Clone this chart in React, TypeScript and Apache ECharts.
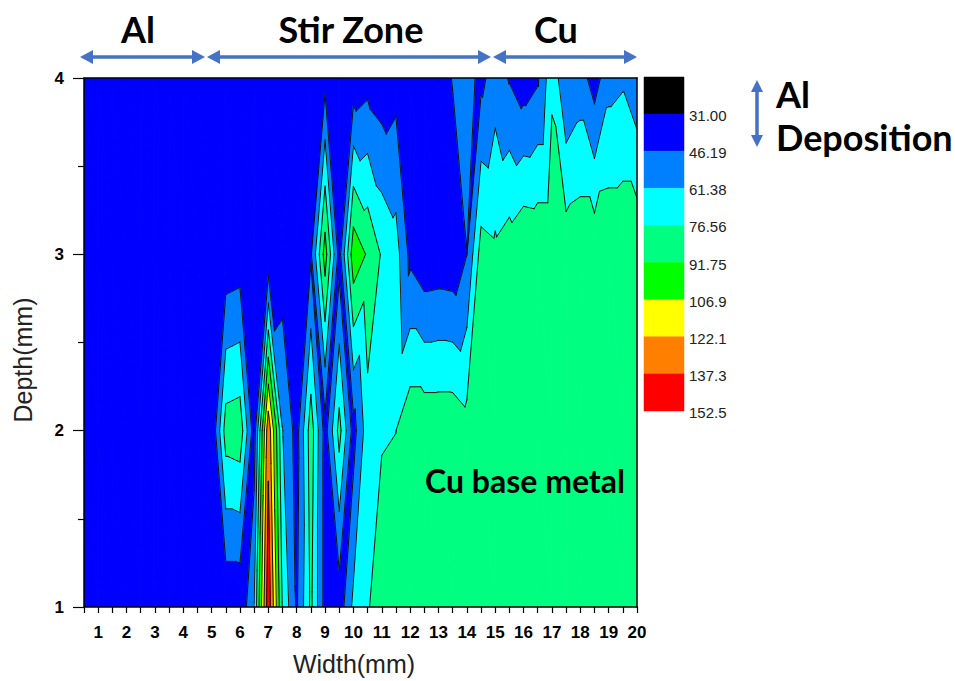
import React, { useEffect, useRef } from 'react';
import * as echarts from 'echarts';

// Width positions (mm) of the measurement columns
const widths = [0.5, 1, 1.5, 2, 2.5, 3, 3.5, 4, 4.5, 5, 5.5, 6, 6.5, 7, 7.5, 8, 8.5, 9, 9.5, 10, 10.5, 11, 11.5, 12, 12.5, 13, 13.5, 14, 14.5, 15, 15.5, 16, 16.5, 17, 17.5, 18, 18.5, 19, 19.5, 20];
// Depth rows (mm)
const depths = [1, 2, 3, 4];
// Hardness values per depth row, one value per width column
const valuesDepth1 = [40, 40, 40, 40, 40, 40, 40, 40, 40, 36, 33, 33, 62, 148, 75, 44, 80, 40, 37, 65, 76, 80, 84, 85, 86, 86, 86, 86, 86, 86, 86, 86, 86, 86, 86, 86, 86, 86, 86, 86];
const valuesDepth2 = [40, 40, 40, 40, 40, 40, 40, 40, 40, 32, 84, 86, 38, 133, 62, 40, 85, 40, 82, 40, 70, 76, 76.5, 88, 88, 88, 88, 83, 86, 86, 86, 86, 86, 86, 86, 86, 86, 86, 86, 86];
const valuesDepth3 = [40, 40, 40, 40, 40, 40, 40, 40, 40, 38, 35, 37, 36, 34, 37, 38, 44, 99, 40, 102, 90, 75, 68, 42, 35, 36, 35, 46, 83, 80, 85, 91, 90, 90, 86, 88, 88, 89, 89, 89];
const valuesDepth4 = [40, 40, 40, 40, 40, 40, 40, 40, 40, 40, 38, 38, 38, 38, 38, 38, 38, 41, 38, 36, 40, 36, 40, 38, 38, 38, 47, 52, 42, 54, 45, 38, 44, 73, 47, 53, 39, 56, 59, 50];
const rows = [valuesDepth1, valuesDepth2, valuesDepth3, valuesDepth4];

// Contour levels and colours
const contourLevels = [31.0, 46.19, 61.38, 76.56, 91.75, 106.9, 122.1, 137.3, 152.5];
const bandColors = ['#000000', '#0000FF', '#0080FF', '#00FFFF', '#00FF80', '#00FF00', '#FFFF00', '#FF8000', '#FF0000', '#800000'];
const colorbarColors = ['#000000', '#0000FF', '#0080FF', '#00FFFF', '#00FF80', '#00FF00', '#FFFF00', '#FF8000', '#FF0000'];
const colorbarLabels = ['31.00', '46.19', '61.38', '76.56', '91.75', '106.9', '122.1', '137.3', '152.5'];

type P = { x: number; y: number; v: number };

function interp(p: P, q: P, L: number): P {
  const t = (L - p.v) / (q.v - p.v);
  return { x: p.x + t * (q.x - p.x), y: p.y + t * (q.y - p.y), v: L };
}

function clip(poly: P[], L: number, keepAbove: boolean): P[] {
  const out: P[] = [];
  const inside = (p: P) => (keepAbove ? p.v >= L : p.v < L);
  for (let k = 0; k < poly.length; k++) {
    const cur = poly[k];
    const prev = poly[(k + poly.length - 1) % poly.length];
    const ci = inside(cur);
    const pi = inside(prev);
    if (ci) {
      if (!pi) out.push(interp(prev, cur, L));
      out.push(cur);
    } else if (pi) {
      out.push(interp(prev, cur, L));
    }
  }
  return out;
}

// Each grid cell is split in two triangles by the diagonal that avoids its highest corner
function cellTriangles(i: number, j: number, api: any): P[][] {
  const pt = (ii: number, jj: number): P => {
    const c = api.coord([widths[ii], depths[jj]]);
    return { x: c[0], y: c[1], v: rows[jj][ii] };
  };
  const a = pt(i, j);
  const b = pt(i + 1, j);
  const c = pt(i + 1, j + 1);
  const d = pt(i, j + 1);
  const vs = [a.v, b.v, c.v, d.v];
  let mi = 0;
  for (let k = 1; k < 4; k++) if (vs[k] > vs[mi]) mi = k;
  if (mi === 1 || mi === 3) {
    return [[a, b, c], [a, c, d]];
  }
  return [[a, b, d], [b, c, d]];
}

const cells: number[][] = [];
for (let j = 0; j < depths.length - 1; j++) {
  for (let i = 0; i < widths.length - 1; i++) {
    cells.push([widths[i], depths[j], widths[i + 1], depths[j + 1], i, j]);
  }
}

function renderFill(_params: any, api: any) {
  const i = api.value(4);
  const j = api.value(5);
  const children: any[] = [];
  for (const tri of cellTriangles(i, j, api)) {
    for (let b = 0; b < bandColors.length; b++) {
      let poly = tri;
      if (b > 0) poly = clip(poly, contourLevels[b - 1], true);
      if (poly.length < 3) continue;
      if (b < contourLevels.length) poly = clip(poly, contourLevels[b], false);
      if (poly.length < 3) continue;
      children.push({
        type: 'polygon',
        shape: { points: poly.map((p) => [p.x, p.y]) },
        style: { fill: bandColors[b], stroke: bandColors[b], lineWidth: 1, lineJoin: 'round' },
        silent: true,
      });
    }
  }
  return { type: 'group', children };
}

function renderLines(_params: any, api: any) {
  const i = api.value(4);
  const j = api.value(5);
  const children: any[] = [];
  for (const tri of cellTriangles(i, j, api)) {
    for (const L of contourLevels) {
      const pts: P[] = [];
      for (let k = 0; k < 3; k++) {
        const p = tri[k];
        const q = tri[(k + 1) % 3];
        if ((p.v >= L) !== (q.v >= L)) pts.push(interp(p, q, L));
      }
      if (pts.length === 2) {
        children.push({
          type: 'line',
          shape: { x1: pts[0].x, y1: pts[0].y, x2: pts[1].x, y2: pts[1].y },
          style: { stroke: '#111', lineWidth: 1, lineCap: 'round' },
          silent: true,
        });
      }
    }
  }
  return { type: 'group', children };
}

function renderColorbar(_params: any, api: any) {
  const idx = api.value(1);
  const p0 = api.coord([api.value(0), api.value(1)]);
  const p1 = api.coord([api.value(2), api.value(3)]);
  return {
    type: 'rect',
    shape: { x: p0[0], y: p0[1], width: p1[0] - p0[0], height: p1[1] - p0[1] },
    style: { fill: colorbarColors[idx], stroke: colorbarColors[idx], lineWidth: 0.5 },
    silent: true,
  };
}

const ARROW = '#4472C4';
function hArrow(x1: number, x2: number, y: number) {
  return {
    type: 'group',
    z: 20,
    children: [
      { type: 'line', shape: { x1: x1 + 8, y1: y, x2: x2 - 8, y2: y }, style: { stroke: ARROW, lineWidth: 3.5 } },
      { type: 'polygon', shape: { points: [[x1, y], [x1 + 13, y - 7], [x1 + 13, y + 7]] }, style: { fill: ARROW } },
      { type: 'polygon', shape: { points: [[x2, y], [x2 - 13, y - 7], [x2 - 13, y + 7]] }, style: { fill: ARROW } },
    ],
  };
}
function vArrow(x: number, y1: number, y2: number) {
  return {
    type: 'group',
    z: 20,
    children: [
      { type: 'line', shape: { x1: x, y1: y1 + 8, x2: x, y2: y2 - 8 }, style: { stroke: ARROW, lineWidth: 3.5 } },
      { type: 'polygon', shape: { points: [[x, y1], [x - 6, y1 + 12], [x + 6, y1 + 12]] }, style: { fill: ARROW } },
      { type: 'polygon', shape: { points: [[x, y2], [x - 6, y2 - 12], [x + 6, y2 - 12]] }, style: { fill: ARROW } },
    ],
  };
}

function boldText(text: string, x: number, y: number, size: number, align: string) {
  return {
    type: 'text',
    x,
    y,
    z: 50,
    style: { text, fontSize: size, fontWeight: 'bold', fontFamily: 'Lato', fill: '#000', align, verticalAlign: 'middle' },
  };
}

const axisLineStyle = { color: '#000', width: 1.5 };

const option: any = {
  animation: false,
  backgroundColor: '#ffffff',
  grid: [
    { left: 84, top: 78, width: 553, height: 529 },
    { left: 644, top: 77, width: 40, height: 334 },
  ],
  xAxis: [
    {
      gridIndex: 0,
      type: 'value',
      min: 0.5,
      max: 20,
      interval: 0.5,
      position: 'bottom',
      z: 10,
      axisLine: { show: true, onZero: false, lineStyle: axisLineStyle },
      axisTick: { show: true, length: 6, lineStyle: { color: '#000', width: 1.2 } },
      axisLabel: {
        formatter: (v: number) => (Math.abs(v - Math.round(v)) < 1e-6 ? String(Math.round(v)) : ''),
        fontSize: 17,
        fontWeight: 'bold',
        fontFamily: 'Liberation Sans',
        color: '#000',
        margin: 17,
      },
      splitLine: { show: false },
    },
    {
      gridIndex: 0,
      type: 'value',
      min: 0.5,
      max: 20,
      position: 'top',
      z: 10,
      axisLine: { show: true, onZero: false, lineStyle: axisLineStyle },
      axisTick: { show: false },
      axisLabel: { show: false },
      splitLine: { show: false },
    },
    { gridIndex: 1, type: 'value', min: 0, max: 1, show: false },
  ],
  yAxis: [
    {
      gridIndex: 0,
      type: 'value',
      min: 1,
      max: 4,
      interval: 1,
      z: 10,
      axisLine: { show: true, onZero: false, lineStyle: axisLineStyle },
      axisTick: { show: true, length: 11, lineStyle: { color: '#000', width: 1.2 } },
      minorTick: { show: true, splitNumber: 2, length: 6, lineStyle: { color: '#000', width: 1.2 } },
      axisLabel: { fontSize: 17, fontWeight: 'bold', fontFamily: 'Liberation Sans', color: '#000', margin: 20 },
      splitLine: { show: false },
      minorSplitLine: { show: false },
    },
    {
      gridIndex: 0,
      type: 'value',
      min: 1,
      max: 4,
      position: 'right',
      z: 10,
      axisLine: { show: true, onZero: false, lineStyle: axisLineStyle },
      axisTick: { show: false },
      axisLabel: { show: false },
      splitLine: { show: false },
    },
    {
      gridIndex: 1,
      type: 'value',
      min: 0,
      max: 9,
      interval: 1,
      inverse: true,
      position: 'right',
      axisLine: { show: false },
      axisTick: { show: false },
      axisLabel: {
        formatter: (v: number) => (v === 0 ? '' : colorbarLabels[v - 1]),
        fontSize: 15,
        fontFamily: 'Liberation Sans',
        color: '#222',
        margin: 5,
        verticalAlign: 'top',
        padding: [-6, 0, 0, 0],
      },
      splitLine: { show: false },
    },
  ],
  series: [
    {
      type: 'custom',
      name: 'fill',
      xAxisIndex: 0,
      yAxisIndex: 0,
      data: cells,
      encode: { x: [0, 2], y: [1, 3] },
      renderItem: renderFill,
      silent: true,
      clip: true,
      z: 2,
    },
    {
      type: 'custom',
      name: 'lines',
      xAxisIndex: 0,
      yAxisIndex: 0,
      data: cells,
      encode: { x: [0, 2], y: [1, 3] },
      renderItem: renderLines,
      silent: true,
      clip: true,
      z: 3,
    },
    {
      type: 'custom',
      name: 'colorbar',
      xAxisIndex: 2,
      yAxisIndex: 2,
      data: colorbarColors.map((_c, i) => [0, i, 1, i + 1]),
      encode: { x: [0, 2], y: [1, 3] },
      renderItem: renderColorbar,
      silent: true,
      z: 2,
    },
  ],
  graphic: {
    elements: [
      boldText('Al', 138, 29, 36, 'center'),
      boldText('Stir Zone', 351, 29, 36, 'center'),
      boldText('Cu', 556, 29, 36, 'center'),
      hArrow(80, 205, 57),
      hArrow(207, 491, 57),
      hArrow(493, 637, 57),
      vArrow(757, 80, 147),
      boldText('Al', 776, 94, 36, 'left'),
      boldText('Deposition', 776, 137, 36, 'left'),
      boldText('Cu base metal', 525, 480, 32, 'center'),
      {
        type: 'text',
        x: 354,
        y: 664,
        z: 50,
        style: { text: 'Width(mm)', fontSize: 25, fontFamily: 'Liberation Sans', fill: '#222', align: 'center', verticalAlign: 'middle' },
      },
      {
        type: 'text',
        x: 23,
        y: 360,
        z: 50,
        rotation: Math.PI / 2,
        style: { text: 'Depth(mm)', fontSize: 25, fontFamily: 'Liberation Sans', fill: '#222', align: 'center', verticalAlign: 'middle' },
      },
    ],
  },
};

export default function App() {
  const ref = useRef<HTMLDivElement>(null);
  useEffect(() => {
    if (!ref.current) return;
    const chart = echarts.init(ref.current, null, { renderer: 'svg' });
    chart.setOption(option);
    return () => chart.dispose();
  }, []);
  return (
    <div
      ref={ref}
      style={{ position: 'absolute', left: 0, top: 0, width: 955, height: 681, background: '#fff' }}
    />
  );
}
